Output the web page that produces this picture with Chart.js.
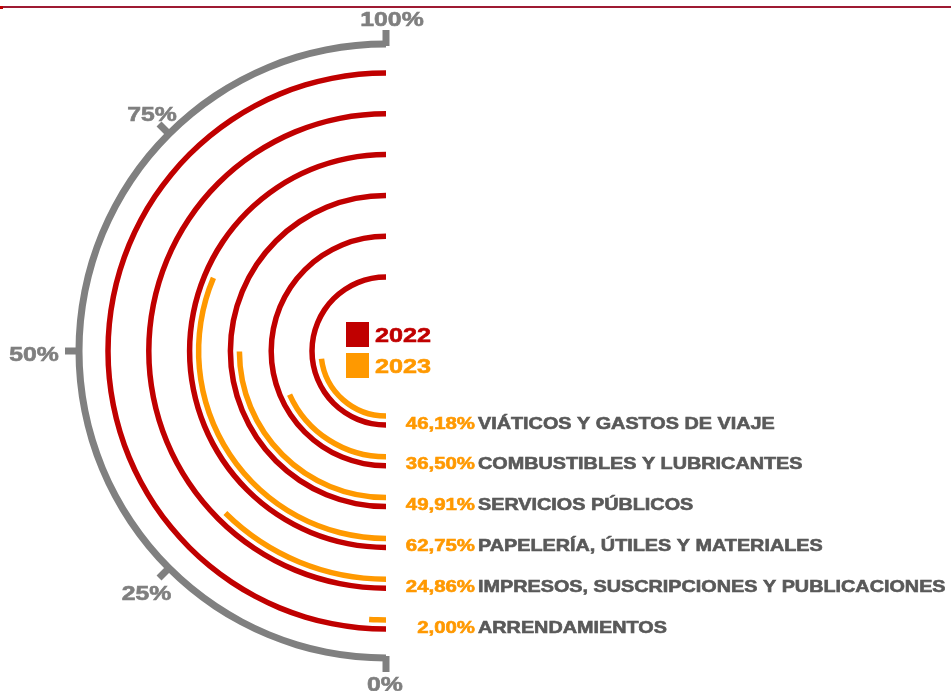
<!DOCTYPE html>
<html>
<head>
<meta charset="utf-8">
<script src="https://cdn.jsdelivr.net/npm/chart.js@4"></script>
<style>
  html, body { margin: 0; padding: 0; background: #fff; }
  #wrap { width: 951px; height: 691px; position: relative; }
</style>
</head>
<body>
<div id="wrap"><canvas id="chart" width="951" height="691"></canvas></div>
<script>
// Data (outermost ring first)
const categories = [
    "ARRENDAMIENTOS",
    "IMPRESOS, SUSCRIPCIONES Y PUBLICACIONES",
    "PAPELERÍA, ÚTILES Y MATERIALES",
    "SERVICIOS PÚBLICOS",
    "COMBUSTIBLES Y LUBRICANTES",
    "VIÁTICOS Y GASTOS DE VIAJE"
];
const values2022 = [100, 100, 100, 100, 100, 100];
const values2023 = [2.00, 24.86, 62.75, 49.91, 36.50, 46.18];
const seriesNames = ["2022", "2023"];
const axisTicks = [0, 25, 50, 75, 100];
const axisTickLabels = ["0%", "25%", "50%", "75%", "100%"];

// Colours
const RED = '#C00000';
const ORANGE = '#FF9900';
const GRAY = '#808080';
const CLEAR = 'rgba(0,0,0,0)';

// Ring thickness (px along the radius)
const AXIS_W = 7, AXIS_GAP = 22.75, BAR_W = 5.5, PAIR_GAP = 3.5, GROUP_GAP = 26.3;
const OUTER_R = 310.5;

// Build ring datasets
const datasets = [];
datasets.push({ data: [100], backgroundColor: [GRAY], weight: AXIS_W, role: 'axis' });
datasets.push({ data: [100], backgroundColor: [CLEAR], weight: AXIS_GAP });
categories.forEach((c, i) => {
    datasets.push({ label: seriesNames[0], data: [values2022[i], 100 - values2022[i]], backgroundColor: [RED, CLEAR], weight: BAR_W, role: 'y2022', cat: i });
    datasets.push({ data: [100], backgroundColor: [CLEAR], weight: PAIR_GAP });
    datasets.push({ label: seriesNames[1], data: [values2023[i], 100 - values2023[i]], backgroundColor: [ORANGE, CLEAR], weight: BAR_W, role: 'y2023', cat: i });
    if (i < categories.length - 1) {
        datasets.push({ data: [100], backgroundColor: [CLEAR], weight: GROUP_GAP });
    }
});
const totalWeight = datasets.reduce((s, d) => s + d.weight, 0);
const cutoutPct = ((OUTER_R - totalWeight) / OUTER_R * 100) + '%';

// stretched, heavy bold text like the original
function drawText(ctx, text, x, y, font, color, align, sx) {
    ctx.save();
    ctx.translate(x, y);
    ctx.scale(sx || 1.2, 1);
    ctx.font = font;
    ctx.fillStyle = color;
    ctx.strokeStyle = color;
    ctx.lineWidth = 0.6;
    ctx.textAlign = align || 'left';
    ctx.textBaseline = 'middle';
    ctx.fillText(text, 0, 0);
    ctx.strokeText(text, 0, 0);
    ctx.restore();
}

const FONT = '"Liberation Sans", Arial, sans-serif';

const decorations = {
    id: 'decorations',
    afterDraw(chart) {
        const ctx = chart.ctx;
        const axisArc = chart.getDatasetMeta(0).data[0];
        const cx = axisArc.x, cy = axisArc.y;
        const rAxis = (axisArc.innerRadius + axisArc.outerRadius) / 2;

        // top rule
        ctx.fillStyle = '#9E1A33';
        ctx.fillRect(0, 6, chart.width, 2);
        ctx.fillStyle = RED;
        ctx.fillRect(0, 6, 3, 3);

        // axis ticks
        ctx.save();
        ctx.strokeStyle = GRAY;
        ctx.lineWidth = 7;
        ctx.lineCap = 'butt';
        axisTicks.forEach(t => {
            const a = Math.PI / 2 + t / 100 * Math.PI;
            ctx.beginPath();
            ctx.moveTo(cx + (rAxis - 2) * Math.cos(a), cy + (rAxis - 2) * Math.sin(a));
            ctx.lineTo(cx + (rAxis + 14) * Math.cos(a), cy + (rAxis + 14) * Math.sin(a));
            ctx.stroke();
        });
        ctx.restore();

        // tick labels
        const tickPos = [[-1, 334], [-239.5, 243.5], [-352, 4.5], [-234, -236], [6, -331]];
        axisTickLabels.forEach((lab, i) => {
            drawText(ctx, lab, cx + tickPos[i][0], cy + tickPos[i][1], 'bold 21px ' + FONT, '#7F7F7F', 'center', 1.18);
        });

        // category labels and 2023 values
        chart.data.datasets.forEach((ds, di) => {
            if (ds.role !== 'y2022') return;
            const arc = chart.getDatasetMeta(di).data[0];
            const y = arc.y + (arc.innerRadius + arc.outerRadius) / 2 - 1;
            const v = values2023[ds.cat].toFixed(2).replace('.', ',') + '%';
            drawText(ctx, v, cx + 89, y, 'bold 17px ' + FONT, ORANGE, 'right', 1.2);
            drawText(ctx, categories[ds.cat], cx + 92, y, 'bold 16.5px ' + FONT, '#595959', 'left', 1.2);
        });

        // legend
        ctx.fillStyle = RED;
        ctx.fillRect(cx - 40, cy - 29, 23, 25);
        ctx.fillStyle = ORANGE;
        ctx.fillRect(cx - 40, cy + 2, 23, 25);
        drawText(ctx, seriesNames[0], cx - 11, cy - 15, 'bold 21px ' + FONT, RED, 'left', 1.2);
        drawText(ctx, seriesNames[1], cx - 11, cy + 16, 'bold 21px ' + FONT, ORANGE, 'left', 1.2);
    }
};

// Chart.js setup
const ctx = document.getElementById('chart').getContext('2d');
const chart = new Chart(ctx, {
    type: 'doughnut',
    data: {
        labels: ['valor', 'resto'],
        datasets: datasets
    },
    options: {
        responsive: false,
        animation: false,
        events: [],
        rotation: 180,
        circumference: 180,
        cutout: cutoutPct,
        layout: {
            padding: { left: 75.5, right: 565, top: 40.5, bottom: 29.5 }
        },
        elements: {
            arc: { borderWidth: 0, hoverOffset: 0 }
        },
        plugins: {
            legend: { display: false },
            tooltip: { enabled: false }
        }
    },
    plugins: [decorations]
});
</script>
</body>
</html>
